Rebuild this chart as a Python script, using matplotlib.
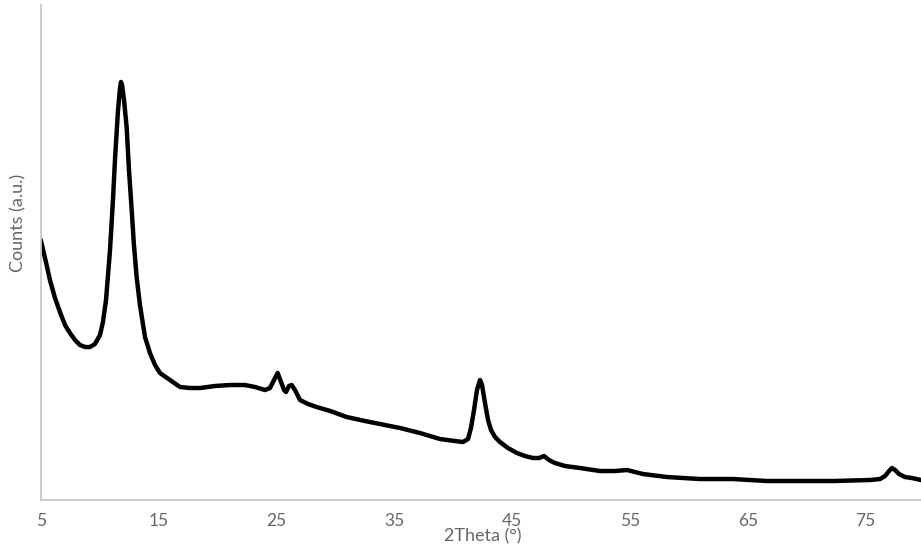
import matplotlib.pyplot as plt

# 2Theta positions (deg) and counts (a.u.)
two_theta = [5.0, 5.42, 5.76, 6.19, 6.61, 7.04, 7.46, 7.89, 8.31, 8.74, 9.16, 9.58,
             10.01, 10.26, 10.52, 10.86, 11.11, 11.28, 11.54, 11.71, 11.79, 11.88,
             12.05, 12.27, 12.47, 12.70, 12.89, 13.12, 13.40, 13.83, 14.25, 14.68,
             15.10, 15.95, 16.80, 17.65, 18.50, 19.77, 21.04, 22.32, 23.17, 24.02,
             24.44, 24.78, 25.09, 25.38, 25.63, 25.80, 26.05, 26.28, 26.56, 26.99,
             27.67, 28.40, 29.56, 30.95, 32.50, 33.78, 35.48, 37.17, 38.87, 40.14,
             40.82, 41.25, 41.50, 41.76, 42.01, 42.27, 42.44, 42.69, 42.95, 43.20,
             43.54, 43.96, 44.64, 45.41, 46.09, 46.77, 47.28, 47.70, 48.12, 48.63,
             49.48, 50.76, 52.46, 53.73, 54.75, 56.10, 58.14, 60.94, 63.74, 66.63,
             69.43, 72.23, 75.37, 76.22, 76.65, 76.99, 77.24, 77.50, 77.84, 78.34,
             78.94, 79.70]
counts = [259, 238, 220, 202, 188, 175, 167, 160, 155, 153, 153, 156,
          165, 178, 200, 250, 300, 340, 390, 412, 418, 415,
          400, 373, 330, 290, 255, 223, 195, 163, 147, 135,
          127, 120, 113, 112, 112, 114, 115, 115, 113, 110,
          112, 120, 127, 118, 110, 108, 114, 115, 110, 100,
          96, 93, 89, 83, 79, 76, 72, 67, 61, 59,
          58, 61, 72, 90, 110, 120, 115, 97, 80, 70,
          63, 58, 52, 47, 44, 42, 42, 44, 40, 37,
          34, 32, 29, 29, 30, 26, 23, 21, 21, 19,
          19, 19, 20, 21, 24, 29, 32, 30, 26, 23,
          22, 20]
xticks = [5, 15, 25, 35, 45, 55, 65, 75]

plt.rcParams['font.family'] = ['Lato', 'DejaVu Sans']

fig = plt.figure(figsize=(9.21, 5.6), dpi=100)
ax = fig.add_axes([0.0445, 0.1071, 0.9593, 0.884])
ax.plot(two_theta, counts, c='k', lw=3.2, solid_joinstyle='round')

ax.set_xlim(5, 80)
ax.set_ylim(0, 495)
ax.set_xticks(xticks)
ax.set_yticks([])
ax.tick_params(axis='x', length=0, pad=9, labelsize=12.5, labelcolor='#666666')
for s in ['top', 'right']:
    ax.spines[s].set_visible(False)
for s in ['left', 'bottom']:
    ax.spines[s].set_color('#c8c8c8')
    ax.spines[s].set_linewidth(1.3)
ax.set_xlabel('2Theta (°)', fontsize=13, color='#666666', labelpad=0)
ax.set_ylabel('Counts (a.u.)', fontsize=13, color='#666666')
ax.yaxis.set_label_coords(-0.017, 0.56)

fig.savefig('out.png', dpi=100)
